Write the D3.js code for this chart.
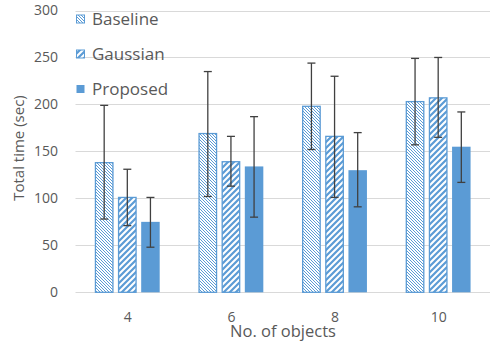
<!DOCTYPE html>
<html><head><meta charset="utf-8">
<script src="https://cdn.jsdelivr.net/npm/d3@7/dist/d3.min.js"></script>
<style>body{margin:0;background:#fff;}svg{display:block;font-family:"Open Sans",sans-serif;}</style>
</head><body>
<svg id="c" width="494" height="344"></svg>
<script>
const categories = ["4", "6", "8", "10"];
const seriesNames = ["Baseline", "Gaussian", "Proposed"];
const baseline = [138, 169, 198, 203];
const gaussian = [101, 139, 166, 207];
const proposed = [75, 134, 130, 155];
const baselineErrLow = [78, 102, 152, 157];
const baselineErrHigh = [199, 235, 244, 249];
const gaussianErrLow = [71, 113, 101, 165];
const gaussianErrHigh = [131, 166, 230, 250];
const proposedErrLow = [48, 80, 91, 117];
const proposedErrHigh = [101, 187, 170, 192];
const yTicks = [0, 50, 100, 150, 200, 250, 300];

(function () {
const values = [baseline, gaussian, proposed];
const errLow = [baselineErrLow, gaussianErrLow, proposedErrLow];
const errHigh = [baselineErrHigh, gaussianErrHigh, proposedErrHigh];

const svg = d3.select("#c");
const blue = "#5b9bd5";
const textCol = "#595959";
const mLeft = 75.5, mRight = 490, mTop = 10.5, mBottom = 292.3;

const defs = svg.append("defs");
const p1 = defs.append("pattern").attr("id", "pBase").attr("patternUnits", "userSpaceOnUse")
  .attr("width", 3).attr("height", 3);
p1.append("rect").attr("width", 3).attr("height", 3).attr("fill", "#fff");
p1.append("path").attr("d", "M-1,-1 L4,4 M-1,2 L1,4 M2,-1 L4,1").attr("stroke", blue).attr("stroke-width", 1);
const p2 = defs.append("pattern").attr("id", "pGauss").attr("patternUnits", "userSpaceOnUse")
  .attr("width", 6).attr("height", 6);
p2.append("rect").attr("width", 6).attr("height", 6).attr("fill", "#fff");
p2.append("path").attr("d", "M-1,7 L7,-1 M-4,4 L4,-4 M2,10 L10,2").attr("stroke", blue).attr("stroke-width", 2.2);
const fills = ["url(#pBase)", "url(#pGauss)", blue];

const y = d3.scaleLinear().domain([0, 300]).range([mBottom, mTop]);
const x0 = d3.scaleBand().domain(categories).range([mLeft, mRight]).paddingInner(0.375).paddingOuter(0.1875);
const x1 = d3.scaleBand().domain(seriesNames).range([0, x0.bandwidth()]).paddingInner(0.2);

// grid
svg.append("g").selectAll("line").data(yTicks).join("line")
  .attr("x1", mLeft).attr("x2", mRight)
  .attr("y1", d => Math.round(y(d)) + 0.5).attr("y2", d => Math.round(y(d)) + 0.5)
  .attr("stroke", "#d9d9d9").attr("stroke-width", 1);

// y axis labels
const yAxis = d3.axisLeft(y).tickValues(yTicks).tickSize(0).tickPadding(0);
const ga = svg.append("g").attr("transform", `translate(58,0)`).call(yAxis);
ga.select(".domain").remove();
ga.selectAll("text").attr("fill", textCol).style("font-size", "14px").style("font-family", '"Open Sans",sans-serif');

// x axis labels
const xAxis = d3.axisBottom(d3.scalePoint().domain(categories).range([x0("4") + x0.bandwidth()/2, x0("10") + x0.bandwidth()/2])).tickSize(0).tickPadding(0);
const gx = svg.append("g").attr("transform", `translate(0,312.5)`).call(xAxis);
gx.select(".domain").remove();
gx.selectAll("text").attr("fill", textCol).style("font-size", "14px").style("font-family", '"Open Sans",sans-serif');

// bars
seriesNames.forEach((s, si) => {
  svg.append("g").selectAll("rect").data(categories).join("rect")
    .attr("x", c => x0(c) + x1(s) + (si < 2 ? 0.5 : 0))
    .attr("y", (c, i) => y(values[si][i]))
    .attr("width", x1.bandwidth() - (si < 2 ? 1 : 0))
    .attr("height", (c, i) => mBottom - y(values[si][i]))
    .attr("fill", fills[si])
    .attr("stroke", si < 2 ? blue : "none").attr("stroke-width", 1.3);
});

// error bars
seriesNames.forEach((s, si) => {
  const g = svg.append("g").attr("stroke", "#404040").attr("stroke-width", 1.3);
  categories.forEach((c, i) => {
    const cx = x0(c) + x1(s) + x1.bandwidth() / 2;
    g.append("line").attr("x1", cx).attr("x2", cx).attr("y1", y(errLow[si][i])).attr("y2", y(errHigh[si][i]));
    g.append("line").attr("x1", cx - 4).attr("x2", cx + 4).attr("y1", y(errLow[si][i])).attr("y2", y(errLow[si][i]));
    g.append("line").attr("x1", cx - 4).attr("x2", cx + 4).attr("y1", y(errHigh[si][i])).attr("y2", y(errHigh[si][i]));
  });
});

// legend
const lg = svg.append("g").attr("transform", "translate(76,19)");
seriesNames.forEach((s, si) => {
  const row = lg.append("g").attr("transform", `translate(0,${si * 35})`);
  row.append("rect").attr("x", 0.5).attr("y", -4).attr("width", 8).attr("height", 8)
    .attr("fill", fills[si]).attr("stroke", si < 2 ? blue : "none").attr("stroke-width", 1);
  row.append("text").attr("x", 16).attr("y", 0).attr("dy", "0.35em").text(s)
    .attr("fill", textCol).style("font-size", "17px");
});

// axis titles
svg.append("text").attr("transform", `translate(19,148) rotate(-90)`).attr("text-anchor", "middle")
  .attr("dy", "0.36em").attr("fill", textCol).style("font-size", "15px").text("Total time (sec)");
svg.append("text").attr("x", 283).attr("y", 336.5).attr("text-anchor", "middle")
  .attr("fill", textCol).style("font-size", "16.5px").text("No. of objects");
})();
</script>
</body></html>
